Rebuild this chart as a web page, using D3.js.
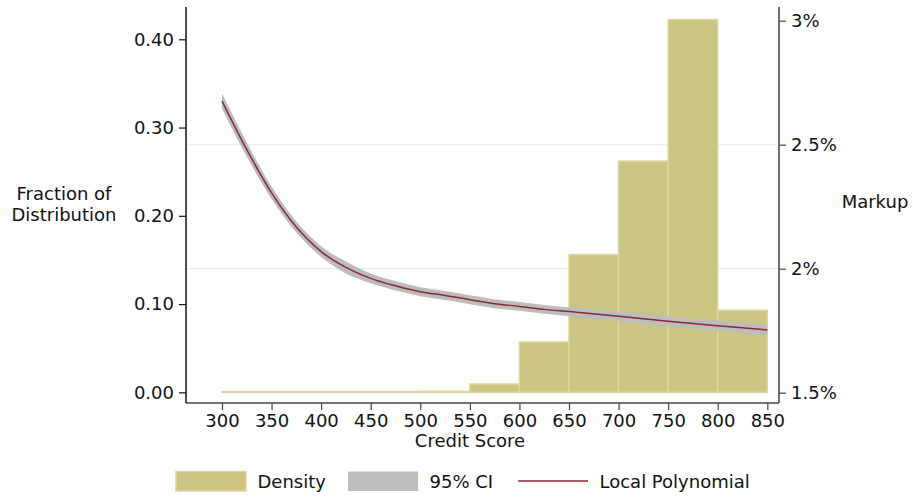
<!DOCTYPE html>
<html>
<head>
<meta charset="utf-8">
<script src="https://cdn.jsdelivr.net/npm/d3@7"></script>
<style>
  html, body { margin: 0; padding: 0; background: #fff; }
  svg text { font-family: "DejaVu Sans", sans-serif; fill: #111; }
</style>
</head>
<body>
<svg id="chart" width="913" height="497"></svg>
<script>
// Histogram of credit scores (fraction of borrowers per 50-point bin)
const binStarts = [300, 350, 400, 450, 500, 550, 600, 650, 700, 750, 800];
const binWidth = 50;
const fractions = [0.0008, 0.0008, 0.0008, 0.0009, 0.0011, 0.0094, 0.057, 0.156, 0.262, 0.4224, 0.0929];

// Local polynomial fit of markup (%) on credit score, with 95% CI half-widths
const fitScores = [300, 325, 350, 375, 400, 425, 450, 475, 500, 525, 550, 575, 600, 625, 650, 700, 750, 800, 850];
const fitMarkup = [2.676, 2.480, 2.306, 2.168, 2.069, 2.005, 1.961, 1.931, 1.907, 1.892, 1.875, 1.859, 1.848, 1.836, 1.827, 1.808, 1.788, 1.770, 1.753];
const ciHalf = [0.030, 0.029, 0.025, 0.022, 0.022, 0.024, 0.020, 0.019, 0.018, 0.018, 0.018, 0.018, 0.018, 0.018, 0.018, 0.019, 0.019, 0.020, 0.021];

const xTicks = [300, 350, 400, 450, 500, 550, 600, 650, 700, 750, 800, 850];
const leftTicks = [0, 0.1, 0.2, 0.3, 0.4];
const rightTicks = [1.5, 2, 2.5, 3];
const rightTickLabels = ["1.5%", "2%", "2.5%", "3%"];
const gridTicks = [2, 2.5];

const svg = d3.select("#chart");
const L = 186, R = 779, T = 7, B = 403;

const x = d3.scaleLinear().domain([263.7, 861.8]).range([L, R]);
const yL = d3.scaleLinear().domain([-0.0121, 0.4366]).range([B, T]);
const yR = d3.scaleLinear().domain([1.4585, 3.0552]).range([B, T]);

// light horizontal gridlines from the markup axis
svg.append("g").selectAll("line").data(gridTicks).join("line")
  .attr("x1", L).attr("x2", R)
  .attr("y1", d => yR(d)).attr("y2", d => yR(d))
  .attr("stroke", "#eaf0f2").attr("stroke-width", 1.2);

// histogram bars
svg.append("g").selectAll("rect").data(binStarts).join("rect")
  .attr("x", d => x(d))
  .attr("width", d => x(d + binWidth) - x(d))
  .attr("y", (d, i) => yL(fractions[i]))
  .attr("height", (d, i) => yL(0) - yL(fractions[i]))
  .attr("fill", "#cbc483")
  .attr("stroke", "#dcd7a2")
  .attr("stroke-width", 1.5);

// confidence band
const fit = fitScores.map((s, i) => ({ s, m: fitMarkup[i], h: ciHalf[i] }));
svg.append("path").datum(fit)
  .attr("d", d3.area()
    .x(d => x(d.s))
    .y0(d => yR(d.m - d.h))
    .y1(d => yR(d.m + d.h))
    .curve(d3.curveMonotoneX))
  .attr("fill", "#bdbdbd");

// fitted line
svg.append("path").datum(fit)
  .attr("d", d3.line().x(d => x(d.s)).y(d => yR(d.m)).curve(d3.curveMonotoneX))
  .attr("fill", "none")
  .attr("stroke", "#8e2736")
  .attr("stroke-width", 1.5);

// axes
const fontSize = 18;
function styleAxis(g, color) {
  g.select(".domain").attr("stroke", color).attr("stroke-width", 1.5);
  g.selectAll(".tick line").attr("stroke", color).attr("stroke-width", 1.2);
  g.selectAll(".tick text").style("font-size", fontSize + "px").attr("fill", "#111");
}

const xAxis = d3.axisBottom(x).tickValues(xTicks).tickSizeOuter(0).tickSize(7).tickPadding(4);
svg.append("g").attr("transform", `translate(0,${B})`).call(xAxis)
  .call(g => g.select(".domain").attr("d", `M${L},0H${R}`))
  .call(g => styleAxis(g, "#444"));

const yLeftAxis = d3.axisLeft(yL).tickValues(leftTicks).tickFormat(d3.format(".2f"))
  .tickSizeOuter(0).tickSize(7).tickPadding(5);
svg.append("g").attr("transform", `translate(${L},0)`).call(yLeftAxis)
  .call(g => g.select(".domain").attr("d", `M0,${T}V${B}`))
  .call(g => styleAxis(g, "#111"));

const yRightAxis = d3.axisRight(yR).tickValues(rightTicks)
  .tickFormat((d, i) => rightTickLabels[i])
  .tickSizeOuter(0).tickSize(7).tickPadding(5);
svg.append("g").attr("transform", `translate(${R},0)`).call(yRightAxis)
  .call(g => g.select(".domain").attr("d", `M0,${T}V${B}`))
  .call(g => styleAxis(g, "#444"));

// axis titles
svg.append("text").attr("x", 470).attr("y", 446.5).attr("text-anchor", "middle")
  .style("font-size", fontSize + "px").text("Credit Score");
svg.append("text").attr("x", 64).attr("y", 200).attr("text-anchor", "middle")
  .style("font-size", fontSize + "px").text("Fraction of");
svg.append("text").attr("x", 64).attr("y", 220.5).attr("text-anchor", "middle")
  .style("font-size", fontSize + "px").text("Distribution");
svg.append("text").attr("x", 875).attr("y", 207.5).attr("text-anchor", "middle")
  .style("font-size", fontSize + "px").text("Markup");

// legend
const legendItems = [
  { label: "Density", type: "rect", fill: "#cbc483", stroke: "#dcd7a2", x: 176 },
  { label: "95% CI", type: "rect", fill: "#bdbdbd", stroke: "none", x: 348 },
  { label: "Local Polynomial", type: "line", stroke: "#8e2736", x: 518 }
];
const swatchW = 70;
const lg = svg.append("g");
legendItems.forEach(it => {
  if (it.type === "rect") {
    lg.append("rect").attr("x", it.x).attr("y", 471.5).attr("width", swatchW).attr("height", 19.5)
      .attr("fill", it.fill).attr("stroke", it.stroke).attr("stroke-width", 1.5);
  } else {
    lg.append("line").attr("x1", it.x).attr("x2", it.x + swatchW).attr("y1", 481).attr("y2", 481)
      .attr("stroke", it.stroke).attr("stroke-width", 1.5);
  }
  lg.append("text").attr("x", it.x + swatchW + 11.5).attr("y", 487.5)
    .style("font-size", fontSize + "px").text(it.label);
});
</script>
</body>
</html>
